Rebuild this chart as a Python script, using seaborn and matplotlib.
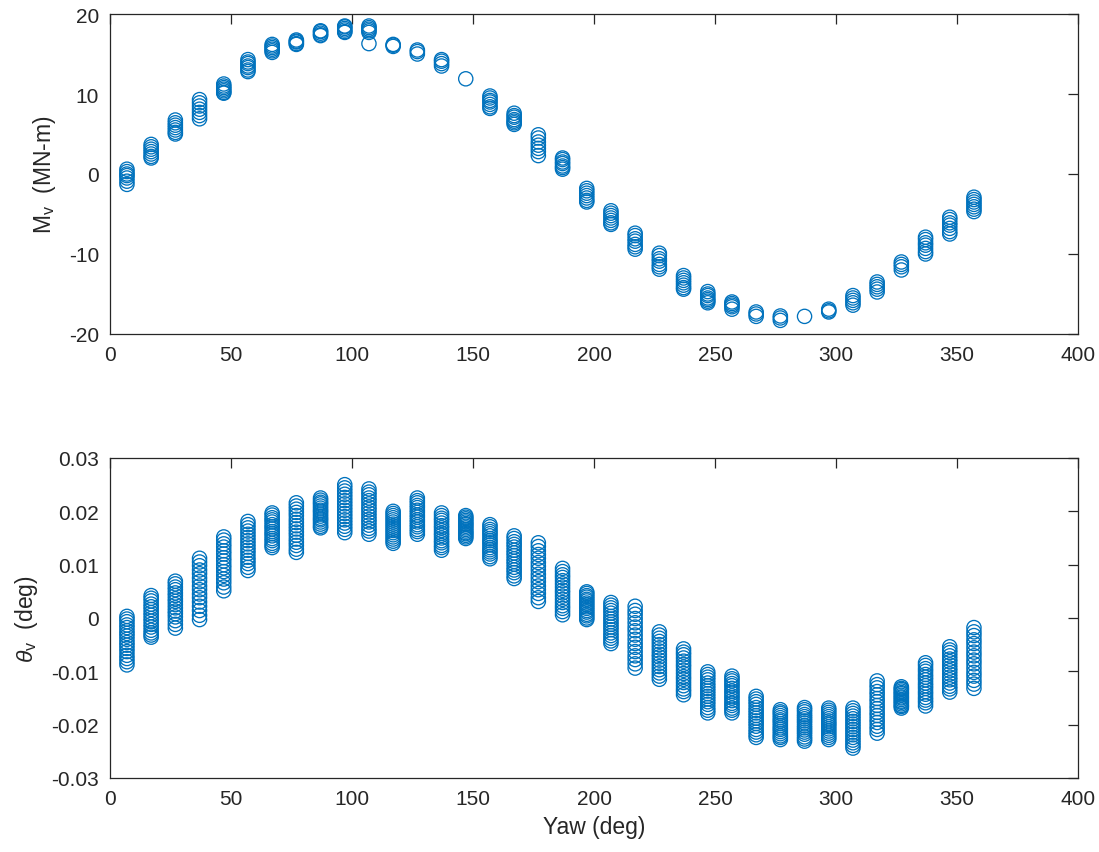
"""
Vertical bending moment and rotation vs. yaw heading
"""

import pandas as pd
import matplotlib.pyplot as plt
import seaborn as sns
from matplotlib.ticker import FuncFormatter

# yaw headings (deg)
yaw = [7, 17, 27, 37, 47, 57, 67, 77, 87, 97, 107, 117, 127, 137, 147, 157, 167, 177,
       187, 197, 207, 217, 227, 237, 247, 257, 267, 277, 287, 297, 307, 317, 327, 337, 347, 357]

# M_v (MN-m) per yaw heading
mv = [
    [0.6, 0.3, 0.0, -0.2, -0.5, -0.9, -1.3],
    [3.7, 3.4, 3.1, 2.8, 2.5, 2.2, 2.0],
    [6.75, 6.4, 6.1, 5.8, 5.5, 5.2, 5.0],
    [9.3, 8.9, 8.5, 8.1, 7.7, 7.3, 6.9],
    [11.25, 11.0, 10.8, 10.6, 10.4, 10.2, 10.1],
    [14.3, 14.0, 13.8, 13.5, 13.3, 13.0, 12.8],
    [16.2, 16.0, 15.8, 15.6, 15.4, 15.2],
    [16.75, 16.6, 16.5, 16.3, 16.2],
    [17.9, 17.8, 17.6, 17.4, 17.3],
    [18.5, 18.4, 18.2, 18.0, 17.8, 17.7],
    [18.5, 18.3, 18.1, 17.9, 17.7, 16.3],
    [16.2, 16.1, 15.95],
    [15.5, 15.3, 15.0],
    [14.3, 14.1, 13.8, 13.5],
    [11.9],
    [9.75, 9.5, 9.2, 9.0, 8.7, 8.4, 8.2],
    [7.6, 7.3, 7.1, 6.8, 6.6, 6.4, 6.2],
    [4.9, 4.5, 4.0, 3.6, 3.2, 2.8, 2.3],
    [2.0, 1.8, 1.5, 1.3, 1.0, 0.8, 0.6],
    [-1.8, -2.1, -2.4, -2.7, -3.0, -3.3, -3.5],
    [-4.6, -4.9, -5.2, -5.5, -5.8, -6.1, -6.3],
    [-7.4, -7.7, -8.1, -8.4, -8.8, -9.1, -9.4],
    [-9.9, -10.2, -10.6, -10.9, -11.3, -11.6, -11.9],
    [-12.7, -13.0, -13.3, -13.6, -13.9, -14.2, -14.4],
    [-14.7, -15.0, -15.2, -15.5, -15.7, -15.9, -16.1],
    [-16.0, -16.2, -16.4, -16.6, -16.9],
    [-17.25, -17.5, -17.8],
    [-17.75, -18.0, -18.3],
    [-17.8],
    [-16.9, -17.1, -17.25],
    [-15.2, -15.5, -15.8, -16.1, -16.4],
    [-13.5, -13.8, -14.1, -14.4, -14.75],
    [-11.0, -11.3, -11.6, -12.0],
    [-7.9, -8.2, -8.6, -8.9, -9.3, -9.7, -10.0],
    [-5.4, -5.7, -6.1, -6.4, -6.8, -7.2, -7.5],
    [-2.9, -3.2, -3.5, -3.8, -4.1, -4.4, -4.7],
]

# theta_v per yaw heading, in 1e-3 deg
theta_milli = [
    [0.3, -0.2, -0.7, -1.3, -1.8, -2.4, -2.9, -3.4, -4.0, -4.6, -5.1, -5.7, -6.3, -7.0, -7.6, -8.2, -8.8],
    [4.2, 3.7, 3.2, 2.6, 2.1, 1.6, 1.0, 0.5, -0.1, -0.6, -1.2, -1.7, -2.3, -2.8, -3.2, -3.6],
    [6.9, 6.4, 5.8, 5.3, 4.7, 4.2, 3.6, 3.1, 2.5, 1.9, 1.3, 0.8, 0.2, -0.5, -1.2, -1.9],
    [11.2, 10.5, 9.8, 9.0, 8.3, 7.5, 6.8, 6.0, 5.3, 4.5, 3.8, 3.0, 2.2, 1.4, 0.5, -0.3],
    [15.2, 14.6, 13.9, 13.3, 12.6, 12.0, 11.3, 10.7, 10.0, 9.4, 8.7, 8.0, 7.3, 6.6, 5.8, 5.1],
    [18.1, 17.5, 16.9, 16.3, 15.7, 15.1, 14.5, 13.9, 13.3, 12.7, 12.1, 11.4, 10.8, 10.2, 9.5, 8.9],
    [19.7, 19.3, 18.8, 18.4, 18.0, 17.5, 17.1, 16.7, 16.2, 15.8, 15.4, 14.9, 14.5, 14.0, 13.6, 13.2],
    [21.6, 21.0, 20.4, 19.8, 19.2, 18.5, 17.9, 17.3, 16.7, 16.1, 15.5, 14.8, 14.2, 13.6, 12.9, 12.3],
    [22.5, 22.1, 21.7, 21.4, 21.0, 20.6, 20.2, 19.9, 19.5, 19.1, 18.7, 18.4, 18.0, 17.6, 17.2, 16.9],
    [25.0, 24.4, 23.8, 23.2, 22.6, 22.0, 21.4, 20.8, 20.2, 19.6, 19.0, 18.4, 17.8, 17.2, 16.6, 16.0],
    [24.2, 23.6, 23.1, 22.5, 22.0, 21.4, 20.8, 20.3, 19.7, 19.1, 18.5, 18.0, 17.4, 16.8, 16.3, 15.7],
    [20.0, 19.6, 19.2, 18.8, 18.4, 18.0, 17.6, 17.2, 16.8, 16.4, 16.0, 15.6, 15.2, 14.8, 14.4, 14.0],
    [22.5, 22.0, 21.6, 21.1, 20.7, 20.2, 19.8, 19.3, 18.9, 18.4, 18.0, 17.5, 17.1, 16.6, 16.2, 15.7],
    [19.7, 19.2, 18.7, 18.3, 17.8, 17.3, 16.9, 16.4, 15.9, 15.5, 15.0, 14.5, 14.1, 13.6, 13.2, 12.7],
    [19.2, 18.9, 18.6, 18.3, 18.0, 17.7, 17.5, 17.2, 16.9, 16.6, 16.3, 16.0, 15.8, 15.5, 15.2, 14.9],
    [17.5, 17.1, 16.6, 16.2, 15.8, 15.4, 14.9, 14.5, 14.1, 13.7, 13.2, 12.8, 12.4, 12.0, 11.5, 11.1],
    [15.4, 14.9, 14.3, 13.8, 13.3, 12.7, 12.2, 11.7, 11.1, 10.6, 10.1, 9.5, 9.0, 8.5, 7.9, 7.4],
    [14.1, 13.4, 12.6, 11.9, 11.2, 10.4, 9.7, 9.0, 8.2, 7.5, 6.8, 6.0, 5.3, 4.6, 3.8, 3.1],
    [9.3, 8.7, 8.1, 7.6, 7.0, 6.4, 5.8, 5.2, 4.7, 4.1, 3.5, 2.9, 2.3, 1.8, 1.2, 0.6],
    [4.9, 4.6, 4.2, 3.9, 3.5, 3.2, 2.8, 2.5, 2.1, 1.8, 1.4, 1.1, 0.7, 0.4, 0.0, -0.3],
    [2.9, 2.4, 1.9, 1.4, 0.9, 0.3, -0.2, -0.7, -1.2, -1.7, -2.2, -2.8, -3.3, -3.8, -4.3, -4.8],
    [2.2, 1.4, 0.7, -0.1, -0.9, -1.7, -2.4, -3.2, -4.0, -4.8, -5.5, -6.3, -7.1, -7.8, -8.6, -9.4],
    [-2.6, -3.2, -3.8, -4.4, -5.0, -5.6, -6.2, -6.8, -7.3, -7.9, -8.5, -9.1, -9.7, -10.3, -10.9, -11.5],
    [-5.8, -6.4, -6.9, -7.5, -8.1, -8.7, -9.2, -9.8, -10.4, -11.0, -11.5, -12.1, -12.7, -13.3, -13.8, -14.4],
    [-10.1, -10.6, -11.1, -11.6, -12.2, -12.7, -13.2, -13.7, -14.2, -14.7, -15.2, -15.7, -16.2, -16.8, -17.3, -17.8],
    [-10.9, -11.4, -11.8, -12.3, -12.7, -13.2, -13.7, -14.1, -14.6, -15.0, -15.5, -16.0, -16.4, -16.9, -17.3, -17.8],
    [-14.7, -15.2, -15.7, -16.2, -16.8, -17.3, -17.8, -18.3, -18.8, -19.3, -19.8, -20.3, -20.9, -21.4, -21.9, -22.4],
    [-17.2, -17.6, -17.9, -18.3, -18.7, -19.1, -19.4, -19.8, -20.2, -20.6, -20.9, -21.3, -21.7, -22.1, -22.4, -22.8],
    [-16.8, -17.2, -17.6, -18.1, -18.5, -18.9, -19.3, -19.7, -20.2, -20.6, -21.0, -21.4, -21.8, -22.3, -22.7, -23.1],
    [-16.9, -17.3, -17.7, -18.1, -18.5, -18.9, -19.3, -19.7, -20.0, -20.4, -20.8, -21.2, -21.6, -22.0, -22.4, -22.8],
    [-16.9, -17.4, -17.9, -18.4, -18.9, -19.4, -19.9, -20.4, -20.9, -21.4, -21.9, -22.4, -22.9, -23.4, -23.9, -24.4],
    [-11.8, -12.5, -13.1, -13.8, -14.4, -15.1, -15.7, -16.4, -17.0, -17.7, -18.3, -19.0, -19.6, -20.3, -20.9, -21.6],
    [-12.9, -13.2, -13.4, -13.7, -14.0, -14.2, -14.5, -14.8, -15.0, -15.3, -15.6, -15.8, -16.1, -16.4, -16.6, -16.9],
    [-8.4, -8.9, -9.5, -10.0, -10.6, -11.1, -11.6, -12.2, -12.7, -13.2, -13.8, -14.3, -14.9, -15.4, -15.9, -16.5],
    [-5.4, -6.0, -6.5, -7.1, -7.7, -8.2, -8.8, -9.4, -9.9, -10.5, -11.1, -11.6, -12.2, -12.8, -13.3, -13.9],
    [-1.8, -2.6, -3.3, -4.1, -4.8, -5.6, -6.4, -7.1, -7.9, -8.6, -9.4, -10.2, -10.9, -11.7, -12.4, -13.2],
]

BLUE = '#0072BD'
AX_COLOR = '#262626'

sns.set_style("white")
plt.rcParams['font.family'] = ['Liberation Sans', 'DejaVu Sans']
plt.rcParams['mathtext.fontset'] = 'custom'
plt.rcParams['mathtext.rm'] = 'Liberation Sans'
plt.rcParams['mathtext.it'] = 'Liberation Sans:italic'
plt.rcParams['axes.unicode_minus'] = False


def long_frame(groups, scale=1.0):
    rows = []
    for x, vals in zip(yaw, groups):
        for v in vals:
            rows.append((x, v * scale))
    return pd.DataFrame(rows, columns=['yaw', 'value'])


df_mv = long_frame(mv)
df_theta = long_frame(theta_milli, 1e-3)

fig = plt.figure(figsize=(10.99, 8.53), dpi=100)
ax1 = fig.add_axes([0.1001, 0.6073, 0.8808, 0.3751])
ax2 = fig.add_axes([0.1001, 0.0868, 0.8808, 0.3751])

for ax, df in [(ax1, df_mv), (ax2, df_theta)]:
    sns.scatterplot(data=df, x='yaw', y='value', ax=ax, marker='o', s=105,
                    facecolors='none', edgecolor=BLUE, linewidth=0.95)
    ax.set_xlim(0, 400)
    ax.set_xticks(range(0, 401, 50))
    for side in ax.spines.values():
        side.set_color(AX_COLOR)
        side.set_linewidth(0.9)
    ax.tick_params(direction='in', top=True, right=True, length=7,
                   width=0.9, color=AX_COLOR, labelcolor=AX_COLOR,
                   labelsize=15, pad=8)
    ax.set_xlabel('')

ax1.set_ylim(-20, 20)
ax1.set_yticks([-20, -10, 0, 10, 20])
ax1.set_ylabel(r'M$_{\mathrm{v}}$  (MN-m)', fontsize=16.5, color=AX_COLOR, labelpad=8)

ax2.set_ylim(-0.03, 0.03)
ax2.set_yticks([-0.03, -0.02, -0.01, 0, 0.01, 0.02, 0.03])
ax2.yaxis.set_major_formatter(FuncFormatter(lambda v, _: f'{round(v, 3):g}'))
ax2.set_ylabel(r'$\theta_{\mathrm{v}}$  (deg)', fontsize=16.5, color=AX_COLOR, labelpad=8)
ax2.set_xlabel('Yaw (deg)', fontsize=16.5, color=AX_COLOR, labelpad=5)

fig.savefig('out.png', dpi=100)
plt.close(fig)
